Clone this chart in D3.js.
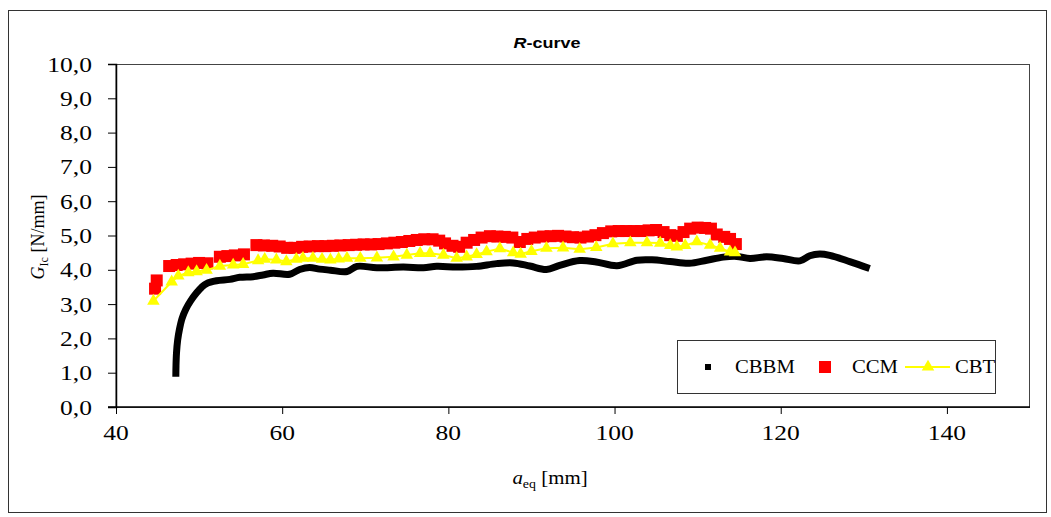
<!DOCTYPE html>
<html>
<head>
<meta charset="utf-8">
<script src="https://cdn.jsdelivr.net/npm/d3@7"></script>
<style>
  html, body { margin: 0; padding: 0; background: #fff; }
  svg { display: block; }
  text { font-family: "Liberation Serif", "Times New Roman", serif; fill: #000; }
</style>
</head>
<body>
<svg id="chart" width="1051" height="517"></svg>
<script>
// R-curve: fracture energy G_Ic versus equivalent crack length a_eq
const xTicks = [40, 60, 80, 100, 120, 140];
const yTicks = [0, 1, 2, 3, 4, 5, 6, 7, 8, 9, 10];

// CBBM: [a_eq (mm), G_Ic (N/mm)]
const cbbm = [
  [47.2, 0.88], [47.22, 1.2], [47.28, 1.57], [47.42, 1.95], [47.65, 2.28], [47.95, 2.58],
  [48.4, 2.85], [49.0, 3.1], [49.7, 3.33], [50.3, 3.49], [50.9, 3.6], [52.1, 3.68],
  [53.7, 3.72], [54.9, 3.78], [56.5, 3.8], [57.7, 3.85], [58.9, 3.9], [60.9, 3.87],
  [62.1, 4.01], [63.3, 4.07], [64.5, 4.02], [65.8, 3.99], [67.8, 3.95], [69.0, 4.1],
  [71.4, 4.06], [74.6, 4.08], [77.0, 4.06], [78.6, 4.1], [81.0, 4.08], [83.4, 4.1],
  [85.8, 4.18], [87.8, 4.2], [89.8, 4.11], [91.8, 4.01], [93.4, 4.13], [95.8, 4.27],
  [97.8, 4.23], [100.3, 4.12], [102.7, 4.28], [104.5, 4.29], [106.7, 4.24], [109.0, 4.19],
  [111.1, 4.28], [113.1, 4.37], [114.7, 4.39], [116.3, 4.33], [118.3, 4.38], [120.3, 4.33],
  [122.3, 4.26], [123.5, 4.41], [124.7, 4.46], [125.9, 4.42], [128.3, 4.24], [130.7, 4.04]
];

// CCM
const ccm = [
  [44.7, 3.45], [44.9, 3.69], [46.4, 4.11], [47.3, 4.14], [48.2, 4.16], [49.1, 4.18],
  [50.0, 4.2], [51.0, 4.19], [52.5, 4.38], [53.4, 4.4], [54.3, 4.42], [55.4, 4.45],
  [56.9, 4.72], [57.8, 4.71], [58.8, 4.7], [59.7, 4.68], [60.6, 4.64], [61.5, 4.64],
  [62.4, 4.67], [63.3, 4.68], [64.3, 4.69], [65.2, 4.69], [66.1, 4.7], [67.0, 4.71],
  [68.0, 4.72], [68.9, 4.73], [69.8, 4.74], [70.7, 4.74], [71.6, 4.75], [72.6, 4.77],
  [73.5, 4.79], [74.4, 4.81], [75.3, 4.84], [76.2, 4.87], [77.1, 4.89], [78.1, 4.89],
  [78.9, 4.85], [79.6, 4.77], [80.5, 4.7], [81.3, 4.67], [82.2, 4.79], [83.1, 4.87],
  [84.0, 4.94], [85.0, 4.98], [85.9, 4.97], [86.8, 4.96], [87.7, 4.94], [88.6, 4.81],
  [89.5, 4.9], [90.4, 4.94], [91.4, 4.97], [92.3, 4.98], [93.2, 4.99], [94.1, 4.97],
  [95.0, 4.95], [95.9, 4.94], [96.8, 4.97], [97.7, 5.01], [98.6, 5.07], [99.6, 5.12],
  [100.5, 5.13], [101.4, 5.13], [102.3, 5.13], [103.2, 5.13], [104.1, 5.15], [105.0, 5.16],
  [105.9, 5.1], [106.7, 5.01], [107.5, 4.99], [108.3, 5.1], [109.1, 5.2], [110.0, 5.23],
  [110.9, 5.22], [111.6, 5.2], [112.3, 5.03], [113.2, 4.96], [113.9, 4.9], [114.6, 4.75]
];

// CBT
const cbt = [
  [44.5, 3.09], [46.7, 3.65], [47.5, 3.82], [48.7, 3.92], [49.7, 3.95], [50.9, 3.99],
  [52.5, 4.11], [54.1, 4.14], [55.3, 4.16], [57.1, 4.27], [57.9, 4.31], [59.3, 4.29],
  [60.5, 4.24], [61.7, 4.31], [62.5, 4.34], [63.7, 4.34], [64.8, 4.31], [65.8, 4.29],
  [66.8, 4.32], [67.8, 4.34], [69.4, 4.34], [71.4, 4.35], [73.4, 4.38], [75.0, 4.43],
  [76.6, 4.48], [77.8, 4.48], [79.4, 4.43], [81.0, 4.34], [82.2, 4.38], [83.4, 4.45],
  [84.6, 4.53], [86.2, 4.62], [87.8, 4.5], [88.7, 4.46], [90.0, 4.54], [91.8, 4.63],
  [93.8, 4.64], [95.8, 4.6], [97.8, 4.65], [99.8, 4.76], [101.9, 4.79], [103.9, 4.79],
  [105.5, 4.78], [106.7, 4.71], [107.5, 4.67], [108.5, 4.71], [109.9, 4.82], [111.5, 4.72],
  [112.7, 4.63], [113.9, 4.52], [114.5, 4.5]
];

const seriesNames = ["CBBM", "CCM", "CBT"];

const svg = d3.select("#chart");
const plot = { left: 116, top: 64, right: 1030, bottom: 407 };
const SX = 1.16; // horizontal stretch of the lettering

const x = d3.scaleLinear().domain([40, 150]).range([plot.left, plot.right]);
const y = d3.scaleLinear().domain([0, 10]).range([plot.bottom, plot.top]);
const fmt = v => d3.format(".1f")(v).replace(".", ",");

// outer chart frame
svg.append("rect")
  .attr("x", 8.5).attr("y", 10.5).attr("width", 1038).attr("height", 502)
  .attr("fill", "#fff").attr("stroke", "#333").attr("stroke-width", 1);

// plot area border
svg.append("rect")
  .attr("x", plot.left).attr("y", plot.top + 0.5)
  .attr("width", plot.right - plot.left - 0.5).attr("height", plot.bottom - plot.top)
  .attr("fill", "none").attr("stroke", "#444").attr("stroke-width", 1);

// title
const title = svg.append("text")
  .attr("transform", `translate(547,48) scale(${SX},1)`)
  .attr("text-anchor", "middle")
  .style("font-family", "'Liberation Sans', Arial, sans-serif")
  .style("font-weight", "bold").style("font-size", "15.5px");
title.append("tspan").style("font-style", "italic").text("R");
title.append("tspan").text("-curve");

// axes
const yAxis = d3.axisLeft(y).tickValues(yTicks).tickSize(8).tickFormat(() => "");
const xAxis = d3.axisBottom(x).tickValues(xTicks).tickSize(7).tickFormat(() => "");
const gy = svg.append("g").attr("transform", `translate(${plot.left},0)`).call(yAxis);
const gx = svg.append("g").attr("transform", `translate(0,${plot.bottom})`).call(xAxis);
[gx, gy].forEach(g => {
  g.select(".domain").attr("stroke", "#000").attr("stroke-width", 1.5);
  g.selectAll(".tick line").attr("stroke", "#000").attr("stroke-width", 1);
});
gx.select(".domain").attr("d", `M${plot.left - 8},0H${plot.right}`);

// tick labels
svg.append("g").selectAll("text").data(yTicks).join("text")
  .attr("transform", d => `translate(92,${y(d) + 7.5}) scale(${SX},1)`)
  .attr("text-anchor", "end").style("font-size", "22px")
  .text(fmt);
svg.append("g").selectAll("text").data(xTicks).join("text")
  .attr("transform", d => `translate(${x(d)},440) scale(${SX},1)`)
  .attr("text-anchor", "middle").style("font-size", "22px")
  .text(d => d);

// axis titles
const xt = svg.append("text")
  .attr("transform", `translate(550,484) scale(${SX},1)`)
  .attr("text-anchor", "middle").style("font-size", "18px");
xt.append("tspan").style("font-style", "italic").text("a");
xt.append("tspan").attr("dy", 4).style("font-size", "12px").text("eq");
xt.append("tspan").attr("dy", -4).text(" [mm]");

const yt = svg.append("text")
  .attr("transform", "translate(44,237) rotate(-90)")
  .attr("text-anchor", "middle").style("font-size", "18px");
yt.append("tspan").style("font-style", "italic").text("G");
yt.append("tspan").attr("dy", 4).style("font-size", "12px").text("Ic");
yt.append("tspan").attr("dy", -4).text(" [N/mm]");

// data
svg.append("defs").append("clipPath").attr("id", "plotclip")
  .append("rect").attr("x", plot.left).attr("y", plot.top)
  .attr("width", plot.right - plot.left).attr("height", plot.bottom - plot.top);
const data = svg.append("g").attr("clip-path", "url(#plotclip)");

// CBBM: dense markers merge into a thick black trace
data.append("path")
  .datum(cbbm)
  .attr("d", d3.line().x(d => x(d[0])).y(d => y(d[1])).curve(d3.curveCatmullRom.alpha(0.5)))
  .attr("fill", "none").attr("stroke", "#000").attr("stroke-width", 7)
  .attr("stroke-linejoin", "round");

// CCM: red squares
const sq = 12;
data.append("g").selectAll("rect").data(ccm).join("rect")
  .attr("x", d => x(d[0]) - sq / 2).attr("y", d => y(d[1]) - sq / 2)
  .attr("width", sq).attr("height", sq).attr("fill", "#ff0000");

// CBT: yellow line with triangles
data.append("path")
  .datum(cbt)
  .attr("d", d3.line().x(d => x(d[0])).y(d => y(d[1])))
  .attr("fill", "none").attr("stroke", "#ffff00").attr("stroke-width", 2);
const tri = d3.symbol().type(d3.symbolTriangle).size(68);
data.append("g").selectAll("path").data(cbt).join("path")
  .attr("transform", d => `translate(${x(d[0])},${y(d[1])})`)
  .attr("d", tri).attr("fill", "#ffff00");

// legend
const lg = svg.append("g");
lg.append("rect").attr("x", 677.5).attr("y", 340.5).attr("width", 318).attr("height", 53)
  .attr("fill", "#fff").attr("stroke", "#333").attr("stroke-width", 1);
const ly = 367;
lg.append("rect").attr("x", 705).attr("y", ly - 3).attr("width", 6).attr("height", 6).attr("fill", "#000");
lg.append("rect").attr("x", 819).attr("y", ly - 6).attr("width", 12).attr("height", 12).attr("fill", "#ff0000");
lg.append("line").attr("x1", 905).attr("x2", 950).attr("y1", ly).attr("y2", ly)
  .attr("stroke", "#ffff00").attr("stroke-width", 2);
lg.append("path").attr("transform", `translate(928,${ly})`).attr("d", tri).attr("fill", "#ffff00");
const legX = [735, 852, 955];
lg.selectAll("text.lbl").data(seriesNames).join("text").attr("class", "lbl")
  .attr("transform", (d, i) => `translate(${legX[i]},${ly + 6}) scale(1.12,1)`)
  .style("font-size", "18.5px").text(d => d);
</script>
</body>
</html>
